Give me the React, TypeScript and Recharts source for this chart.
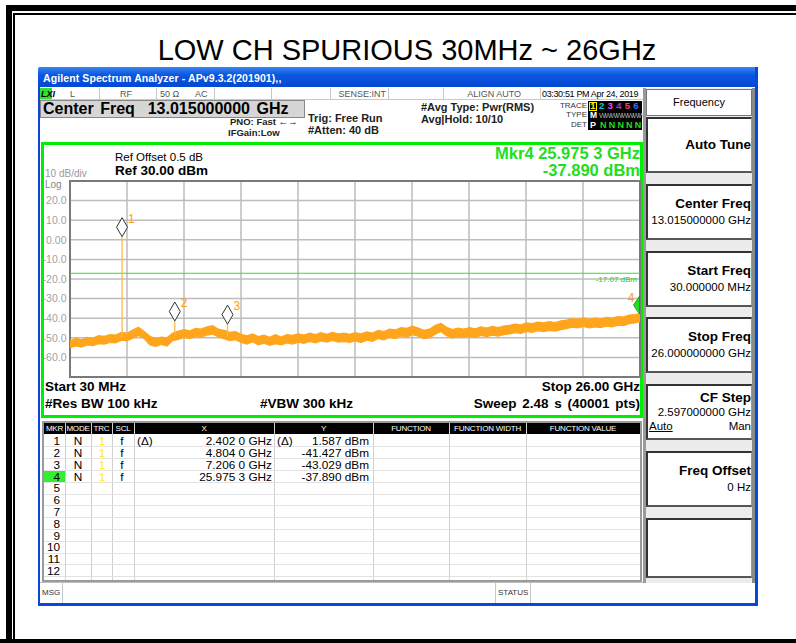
import React from "react";
import {
  ComposedChart,
  Area,
  XAxis,
  YAxis,
  CartesianGrid,
  ReferenceLine,
  ReferenceDot,
  ReferenceArea,
} from "recharts";

const titleText = "LOW CH SPURIOUS 30MHz ~ 26GHz";

const traceFreqGHz = [
  0.03, 0.29, 0.55, 0.81, 1.07, 1.33, 1.59, 1.85, 2.11, 2.37, 2.63, 2.89, 3.15, 3.41, 3.67, 3.93, 4.19,
  4.45, 4.71, 4.97, 5.23, 5.49, 5.75, 6.01, 6.27, 6.53, 6.79, 7.05, 7.31, 7.57, 7.83, 8.09, 8.35, 8.61,
  8.87, 9.13, 9.39, 9.65, 9.91, 10.17, 10.43, 10.69, 10.95, 11.21, 11.47, 11.73, 11.99, 12.25, 12.51,
  12.77, 13.03, 13.29, 13.55, 13.81, 14.07, 14.33, 14.59, 14.85, 15.11, 15.37, 15.63, 15.89, 16.15,
  16.41, 16.67, 16.93, 17.19, 17.45, 17.71, 17.97, 18.23, 18.49, 18.75, 19.01, 19.27, 19.53, 19.79,
  20.05, 20.31, 20.57, 20.83, 21.09, 21.35, 21.61, 21.87, 22.13, 22.39, 22.65, 22.91, 23.17, 23.43,
  23.69, 23.95, 24.21, 24.47, 24.73, 24.99, 25.25, 25.51, 25.77, 26.0,
];

// upper edge of the noisy trace band (dBm)
const traceMaxDbm = [
  -51.6, -50.2, -51.0, -49.8, -50.3, -48.9, -49.2, -48.4, -48.6, -47.2, -47.6, -46.0, -44.6, -46.8, -49.2,
  -50.4, -49.6, -50.0, -47.6, -46.6, -45.8, -46.4, -45.2, -45.6, -44.4, -43.8, -45.6, -46.2, -47.2, -46.8,
  -48.2, -49.0, -48.0, -49.4, -48.6, -49.8, -48.4, -49.6, -48.4, -48.8, -48.0, -48.6, -47.6, -48.4, -47.4,
  -48.2, -47.2, -48.0, -47.6, -48.2, -47.4, -48.0, -47.0, -47.6, -46.2, -46.8, -45.6, -46.0, -44.8, -45.2,
  -44.0, -45.0, -46.2, -45.6, -43.6, -42.6, -44.6, -45.8, -45.0, -45.6, -44.8, -45.4, -44.4, -45.0, -44.2,
  -44.8, -44.0, -43.6, -43.0, -43.4, -42.4, -42.8, -42.0, -42.4, -41.8, -42.2, -41.4, -41.0, -40.2, -40.6,
  -39.8, -40.6, -40.0, -40.4, -39.6, -40.0, -39.2, -39.4, -38.4, -38.2, -37.6,
];

// lower edge of the noisy trace band (dBm)
const traceMinDbm = [
  -55.0, -54.1, -54.8, -53.6, -54.0, -53.0, -53.2, -52.4, -52.6, -51.2, -51.6, -50.2, -48.8, -50.4, -53.6,
  -54.4, -53.4, -54.2, -51.4, -50.8, -49.8, -50.4, -49.4, -49.8, -48.6, -48.0, -49.6, -50.4, -51.4, -51.0,
  -52.4, -53.2, -52.0, -53.6, -52.8, -53.8, -53.0, -53.6, -52.6, -53.2, -52.2, -52.8, -51.8, -52.6, -51.6,
  -52.2, -51.4, -52.2, -51.8, -52.4, -51.6, -52.4, -51.2, -51.8, -50.4, -51.0, -49.8, -50.4, -49.0, -49.6,
  -48.4, -49.2, -50.4, -50.0, -48.2, -46.8, -49.0, -50.2, -49.4, -49.8, -49.2, -49.8, -48.8, -49.4, -48.6,
  -49.2, -48.4, -48.0, -47.4, -47.8, -46.8, -47.2, -46.4, -46.8, -46.2, -46.6, -45.8, -45.4, -44.6, -45.0,
  -44.2, -45.0, -44.4, -44.8, -44.0, -44.4, -43.6, -43.8, -42.8, -42.4, -41.8,
];

const gridFreqTicks = [0.03, 2.627, 5.224, 7.821, 10.418, 13.015, 15.612, 18.209, 20.806, 23.403, 26.0];
const levelTicks = [-70, -60, -50, -40, -30, -20, -10, 0, 10, 20, 30];

const markerIds = ["1", "2", "3", "4"];
const markerFreqGHz = [2.402, 4.804, 7.206, 25.9753];
const markerLevelDbm = [1.587, -41.427, -43.029, -37.89];
const markerBaseDbm = [-49.6, -48.9, -48.8, -40.6];

const displayLineDbm = -17.07;

const tableMkr = ["1", "2", "3", "4", "5", "6", "7", "8", "9", "10", "11", "12"];
const tableMode = ["N", "N", "N", "N"];
const tableX = ["2.402 0 GHz", "4.804 0 GHz", "7.206 0 GHz", "25.975 3 GHz"];
const tableY = ["1.587 dBm", "-41.427 dBm", "-43.029 dBm", "-37.890 dBm"];
const tableDelta = [true, false, false, false];

const FONT = "'Liberation Sans', Arial, sans-serif";

type TP = {
  x: number;
  y: number;
  s: number;
  b?: boolean;
  c?: string;
  a?: "left" | "right" | "center";
  w?: number;
  lh?: number;
  st?: React.CSSProperties;
  children: React.ReactNode;
};

const T = ({ x, y, s, b, c = "#000", a = "left", w = 300, lh, st, children }: TP) => {
  const left = a === "left" ? x : a === "right" ? x - w : x - w / 2;
  const h = lh ?? s;
  return (
    <div
      style={{
        position: "absolute",
        left,
        top: y - h / 2,
        width: w,
        height: h,
        textAlign: a,
        fontSize: s,
        lineHeight: `${h}px`,
        fontWeight: b ? 700 : 400,
        color: c,
        whiteSpace: "nowrap",
        fontFamily: FONT,
        ...st,
      }}
    >
      {children}
    </div>
  );
};

const Box = ({ l, t, w, h, st }: { l: number; t: number; w: number; h: number; st?: React.CSSProperties }) => (
  <div style={{ position: "absolute", left: l, top: t, width: w, height: h, boxSizing: "border-box", ...st }} />
);

const traceData = traceFreqGHz.map((f, i) => ({ f, band: [traceMinDbm[i], traceMaxDbm[i]] }));

const makeDiamond = (id: string) => (props: any) => {
  const { cx, cy } = props;
  const h = 19;
  const w = 5.5;
  return (
    <g>
      <polygon
        points={`${cx},${cy} ${cx + w},${cy - h / 2} ${cx},${cy - h} ${cx - w},${cy - h / 2}`}
        fill="#ffffff"
        stroke="#333"
        strokeWidth={1}
      />
      <text x={cx + 6} y={cy - 14} fontSize={12} fill="#ff9a10" fontFamily={FONT}>
        {id}
      </text>
    </g>
  );
};

const makeActiveDiamond = (id: string) => (props: any) => {
  const { cx, cy } = props;
  return (
    <g>
      <polygon points={`${cx},${cy} ${cx - 6},${cy - 9} ${cx},${cy - 18}`} fill="#22dd22" stroke="#119911" strokeWidth={0.8} />
      <text x={cx - 5} y={cy - 12} textAnchor="end" fontSize={12} fill="#ff9a10" fontFamily={FONT}>
        {id}
      </text>
    </g>
  );
};

const yFmt = (v: number) => (v === 0 ? "0.00" : v.toFixed(1));

const Spectrum = () => (
  <ComposedChart
    width={605}
    height={206}
    data={traceData}
    margin={{ top: 5, right: 5, bottom: 5, left: 0 }}
    style={{ position: "absolute", left: 40, top: 176 }}
  >
    <XAxis dataKey="f" type="number" domain={[0.03, 26]} ticks={gridFreqTicks} hide />
    <YAxis
      type="number"
      domain={[-70, 30]}
      ticks={levelTicks}
      width={30}
      axisLine={false}
      tickLine={false}
      interval={0}
      tick={(p: any) =>
        p.payload.value === 30 || p.payload.value === -70 ? (
          <g />
        ) : (
          <text x={26.5} y={p.y} dy={3.8} textAnchor="end" fontSize={10.5} fill="#a2a2a2" fontFamily={FONT}>
            {yFmt(p.payload.value)}
          </text>
        )
      }
    />
    <CartesianGrid stroke="#bdbdbd" strokeWidth={1.5} />
    <ReferenceArea x1={0.03} x2={26} y1={-70} y2={30} fill="none" stroke="#7a7a7a" strokeWidth={2} />
    <ReferenceLine
      y={displayLineDbm}
      stroke="#33e033"
      strokeWidth={1}
      label={{ value: "-17.07 dBm", position: "insideTopRight", fill: "#22cc22", fontSize: 8, fontFamily: FONT, offset: 3 }}
    />
    <Area
      dataKey="band"
      type="linear"
      stroke="#ffa51c"
      strokeWidth={1.2}
      fill="#ffa51c"
      fillOpacity={1}
      dot={false}
      activeDot={false}
      isAnimationActive={false}
    />
    {markerIds.slice(0, 3).map((id, i) => (
      <ReferenceLine
        key={"sp" + id}
        segment={[
          { x: markerFreqGHz[i], y: markerBaseDbm[i] },
          { x: markerFreqGHz[i], y: markerLevelDbm[i] },
        ]}
        stroke="#ffb84a"
        strokeWidth={1.3}
      />
    ))}
    {markerIds.slice(0, 3).map((id, i) => (
      <ReferenceDot key={"mk" + id} x={markerFreqGHz[i]} y={markerLevelDbm[i]} shape={makeDiamond(id)} />
    ))}
    <ReferenceDot x={markerFreqGHz[3]} y={markerLevelDbm[3]} shape={makeActiveDiamond(markerIds[3])} ifOverflow="visible" />
  </ComposedChart>
);

const softKeys: { t: number; h: number; title?: string; val?: string; extra?: boolean }[] = [
  { t: 117, h: 56, title: "Auto Tune" },
  { t: 184, h: 56, title: "Center Freq", val: "13.015000000 GHz" },
  { t: 251, h: 56, title: "Start Freq", val: "30.000000 MHz" },
  { t: 317, h: 56, title: "Stop Freq", val: "26.000000000 GHz" },
  { t: 384, h: 56, title: "CF Step", val: "2.597000000 GHz", extra: true },
  { t: 451, h: 56, title: "Freq Offset", val: "0 Hz" },
  { t: 518, h: 60 },
];

const colEdges = [44, 65, 91, 112, 134, 274, 373, 449, 526, 640];
const colHeads = ["MKR", "MODE", "TRC", "SCL", "X", "Y", "FUNCTION", "FUNCTION WIDTH", "FUNCTION VALUE"];
const rowTop = 435.5;
const rowH = 11.8;

export default function App() {
  const rowY = (i: number) => rowTop + i * rowH + rowH / 2;
  return (
    <div style={{ position: "absolute", left: 0, top: 0, width: 796, height: 643, background: "#fff", overflow: "hidden", fontFamily: FONT }}>
      {/* outer double border */}
      <Box l={6} t={5} w={800} h={700} st={{ border: "6px solid #000" }} />
      <Box l={13} t={13} w={800} h={700} st={{ border: "2px solid #000" }} />
      <Box l={15} t={15} w={781} h={624} st={{ background: "#fff" }} />
      <Box l={0} t={639} w={796} h={4} st={{ background: "#000" }} />

      <T x={407} y={50} s={29} a="center" w={700}>{titleText}</T>

      {/* window */}
      <Box l={38} t={67} w={720} h={539} st={{ background: "#0a46d8", borderRadius: "3px 3px 0 0" }} />
      <Box l={38} t={67} w={720} h={20} st={{ background: "linear-gradient(#3a86f2, #0a56e0 40%, #0548d2)", borderRadius: "3px 3px 0 0" }} />
      <T x={43} y={78} s={10.5} b c="#fff" st={{ letterSpacing: 0.1 }}>Agilent Spectrum Analyzer - APv9.3.2(201901),,</T>
      <Box l={40} t={87} w={715} h={516} st={{ background: "#fff" }} />

      {/* status row */}
      <Box l={40} t={88} w={603} h={12} st={{ background: "#fff", borderBottom: "1px solid #c8c8c8" }} />
      <Box l={40} t={88} w={12} h={11} st={{ background: "#33dd33" }} />
      <T x={41} y={94} s={9} b c="#000" st={{ fontStyle: "italic" }} w={12}>LXI</T>
      {[99, 156, 214, 271, 330, 388, 443, 540].map((x) => (
        <Box key={x} l={x} t={88} w={1} h={12} st={{ background: "#c8c8c8" }} />
      ))}
      <T x={70} y={94} s={9} c="#555" w={10}>L</T>
      <T x={120} y={94} s={9} c="#555" w={14}>RF</T>
      <T x={160} y={94} s={9} c="#555" w={24}>50 Ω</T>
      <T x={195} y={94} s={9} c="#555" w={14}>AC</T>
      <T x={386} y={94} s={9} a="right" w={80} c="#555">SENSE:INT</T>
      <T x={521} y={94} s={9} a="right" w={80} c="#555">ALIGN AUTO</T>
      <T x={542} y={94} s={9} c="#000" w={100} st={{ letterSpacing: -0.35 }}>03:30:51 PM Apr 24, 2019</T>

      {/* header */}
      <Box l={40} t={100} w={265} h={18} st={{ background: "#d6d6d6", border: "1px solid #888" }} />
      <T x={43} y={109} s={16} b w={260} st={{ wordSpacing: 2 }}>Center Freq&nbsp; 13.015000000 GHz</T>
      <T x={230} y={122} s={9.5} b c="#222" w={75}>PNO: Fast ←→</T>
      <T x={228} y={133} s={9.5} b c="#222" w={60}>IFGain:Low</T>
      <T x={308} y={118} s={11} b c="#222" w={90}>Trig: Free Run</T>
      <T x={308} y={130} s={11} b c="#222" w={90}>#Atten: 40 dB</T>
      <T x={421} y={107} s={11} b c="#222" w={120}>#Avg Type: Pwr(RMS)</T>
      <T x={421} y={119} s={11} b c="#222" w={100}>Avg|Hold: 10/10</T>
      <T x={587} y={106} s={8} a="right" w={40} c="#333">TRACE</T>
      <T x={587} y={115} s={8} a="right" w={40} c="#333">TYPE</T>
      <T x={587} y={124.5} s={8} a="right" w={40} c="#333">DET</T>
      <Box l={588} t={101} w={54} h={10} st={{ background: "#000" }} />
      <Box l={588} t={111} w={54} h={9} st={{ background: "#000" }} />
      <Box l={588} t={120} w={54} h={10} st={{ background: "#000" }} />
      <Box l={589} t={101.5} w={8} h={9} st={{ border: "1px solid #ffee00" }} />
      {["#ffee00", "#00d0d0", "#ff40ff", "#8844ff", "#ff4060", "#4466ff"].map((c, i) => (
        <T key={i} x={593 + i * 8.6} y={106} s={9.5} b c={c} a="center" w={7}>
          {String(i + 1)}
        </T>
      ))}
      <T x={590} y={115.5} s={8.5} b c="#fff" w={8}>M</T>
      <T x={599} y={115.5} s={7.5} c="#aaa" w={42} st={{ letterSpacing: -1.5 }}>WWWWWWWWW</T>
      <T x={590} y={125} s={9} b c="#fff" w={8}>P</T>
      <T x={600} y={125} s={9} b c="#22dd22" w={42} st={{ letterSpacing: 2.2 }}>NNNNN</T>

      {/* green display frame */}
      <Box l={41} t={142} w={602} h={276} st={{ border: "3px solid #00ee00" }} />
      <T x={115} y={158} s={11.5} w={100}>Ref Offset 0.5 dB</T>
      <T x={115} y={171} s={13.5} b w={110}>Ref 30.00 dBm</T>
      <T x={45} y={174} s={10} c="#999" w={60}>10 dB/div</T>
      <T x={45} y={184.5} s={10} c="#888" w={24}>Log</T>
      <T x={640} y={153} s={16.5} b a="right" c="#22dd22" w={160}>Mkr4 25.975 3 GHz</T>
      <T x={640} y={170} s={16.5} b a="right" c="#22dd22" w={110}>-37.890 dBm</T>

      <Spectrum />

      <T x={45} y={387} s={13.5} b w={100}>Start 30 MHz</T>
      <T x={45} y={404} s={13.5} b w={130}>#Res BW 100 kHz</T>
      <T x={260} y={404} s={13.5} b w={110}>#VBW 300 kHz</T>
      <T x={640} y={387} s={13.5} b a="right" w={120}>Stop 26.00 GHz</T>
      <T x={640} y={404} s={13.5} b a="right" w={180} st={{ wordSpacing: 2 }}>Sweep 2.48 s (40001 pts)</T>

      {/* marker table */}
      <Box l={42} t={421} w={600} h={161} st={{ border: "2px solid #9a9a9a", background: "#fff" }} />
      <Box l={44} t={423} w={596} h={11} st={{ background: "#000" }} />
      {colHeads.map((h, i) => (
        <T key={h} x={(colEdges[i] + colEdges[i + 1]) / 2} y={428.5} s={8} a="center" w={colEdges[i + 1] - colEdges[i] - 2} c="#fff" st={{ letterSpacing: -0.2 }}>
          {h}
        </T>
      ))}
      {colEdges.slice(1, -1).map((x) => (
        <Box key={"v" + x} l={x} t={423} w={1} h={157} st={{ background: "#d0d0d0" }} />
      ))}
      {tableMkr.map((m, i) => (
        <Box key={"h" + m} l={44} t={rowTop + (i + 1) * rowH - 1} w={596} h={1} st={{ background: "#e2e2e2" }} />
      ))}
      <Box l={44} t={rowTop + 3 * rowH} w={21} h={rowH - 1} st={{ background: "#33ee33" }} />
      {tableMkr.map((m, i) => (
        <T key={"m" + m} x={60} y={rowY(i)} s={11.8} lh={10.5} a="right" w={16}>
          {m}
        </T>
      ))}
      {tableMode.map((m, i) => (
        <React.Fragment key={"r" + i}>
          <T x={78} y={rowY(i)} s={11.8} lh={10.5} a="center" w={12}>{m}</T>
          <T x={102} y={rowY(i)} s={11.8} lh={10.5} a="center" w={10} c="#ffee00">1</T>
          <T x={122} y={rowY(i)} s={11.8} lh={10.5} a="center" w={10}>f</T>
          {tableDelta[i] && <T x={137} y={rowY(i)} s={11.8} lh={10.5} w={22}>(Δ)</T>}
          <T x={272} y={rowY(i)} s={11.8} lh={10.5} a="right" w={80}>{tableX[i]}</T>
          {tableDelta[i] && <T x={277} y={rowY(i)} s={11.8} lh={10.5} w={22}>(Δ)</T>}
          <T x={369} y={rowY(i)} s={11.8} lh={10.5} a="right" w={68}>{tableY[i]}</T>
        </React.Fragment>
      ))}

      {/* msg bar */}
      <Box l={40} t={582} w={715} h={21} st={{ borderTop: "1px solid #c0c0c0", background: "#fff" }} />
      <Box l={62} t={583} w={1} h={20} st={{ background: "#c8c8c8" }} />
      <Box l={495} t={583} w={1} h={20} st={{ background: "#c8c8c8" }} />
      <Box l={530} t={583} w={1} h={20} st={{ background: "#c8c8c8" }} />
      <T x={42} y={593} s={8} c="#333" w={20}>MSG</T>
      <T x={498} y={593} s={8} c="#333" w={32}>STATUS</T>

      {/* soft keys */}
      <Box l={643} t={88} w={3} h={495} st={{ background: "#9a9a9a" }} />
      <Box l={646} t={88} w={109} h={495} st={{ background: "#ececec" }} />
      <Box l={752} t={88} w={3} h={495} st={{ background: "#8a8a8a" }} />
      <Box l={646} t={89} w={106} h={27} st={{ background: "#fff", border: "1px solid #777" }} />
      <T x={699} y={102} s={11} a="center" w={100}>Frequency</T>
      {softKeys.map((k) => {
        const tY = k.extra ? k.t + 14 : k.t + 20;
        const vY = k.extra ? k.t + 29 : k.t + 37;
        return (
          <React.Fragment key={k.t}>
            <Box l={646} t={k.t} w={106} h={k.h} st={{ background: "#fff", borderLeft: "2px solid #333", borderTop: "2px solid #333", borderBottom: "2px solid #555", borderRight: "1px solid #999" }} />
            {k.title && !k.val && <T x={751} y={k.t + 28} s={13.5} b a="right" w={104}>{k.title}</T>}
            {k.title && k.val && <T x={751} y={tY} s={13.5} b a="right" w={104}>{k.title}</T>}
            {k.val && <T x={751} y={vY} s={11.5} a="right" w={104}>{k.val}</T>}
            {k.extra && <T x={649} y={k.t + 43} s={11.5} w={30} st={{ textDecoration: "underline" }}>Auto</T>}
            {k.extra && <T x={751} y={k.t + 43} s={11.5} a="right" w={30}>Man</T>}
          </React.Fragment>
        );
      })}
      <Box l={755} t={67} w={3} h={539} st={{ background: "#0a46d8" }} />
      <Box l={38} t={603} w={720} h={3} st={{ background: "#0a46d8" }} />
    </div>
  );
}
